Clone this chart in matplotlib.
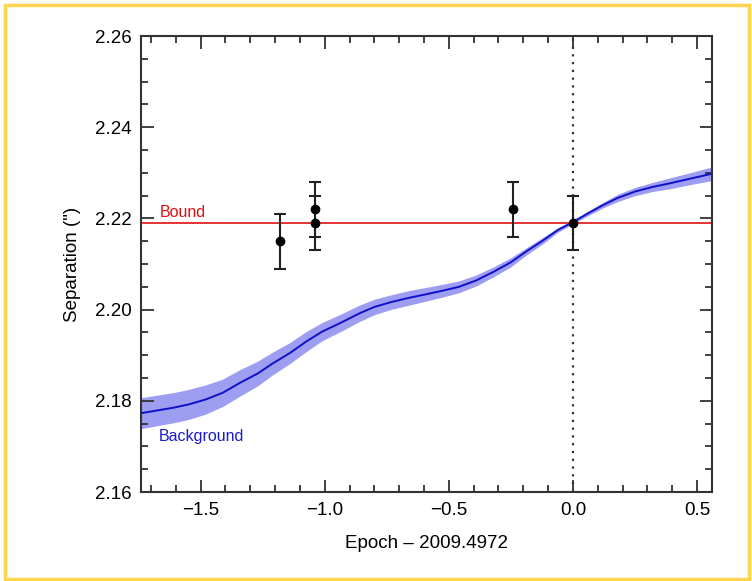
import numpy as np
import matplotlib.pyplot as plt
from matplotlib.patches import Rectangle
from matplotlib.ticker import MultipleLocator

plt.rcParams['font.family'] = ['Liberation Sans', 'DejaVu Sans']

# Datos
ep = [-1.18, -1.04, -1.04, -0.24, 0.0]
sep = [2.215, 2.222, 2.219, 2.222, 2.219]
err = [0.006, 0.006, 0.006, 0.006, 0.006]

bound = 2.219

# Curva de fondo
bx = [-1.74, -1.61, -1.55, -1.48, -1.41, -1.34, -1.27, -1.21, -1.14, -1.075,
      -1.01, -0.94, -0.86, -0.80, -0.73, -0.66, -0.59, -0.53, -0.46, -0.39,
      -0.32, -0.25, -0.19, -0.12, -0.06, 0.0, 0.06, 0.12, 0.18, 0.25, 0.32,
      0.39, 0.47, 0.56]
by = [2.1773, 2.1785, 2.1792, 2.1803, 2.1818, 2.1840, 2.1860, 2.1882, 2.1905,
      2.1930, 2.1952, 2.1970, 2.1992, 2.2006, 2.2017, 2.2026, 2.2034, 2.2041,
      2.2050, 2.2064, 2.2083, 2.2104, 2.2127, 2.2152, 2.2175, 2.2192, 2.2211,
      2.2229, 2.2245, 2.2259, 2.2269, 2.2277, 2.2287, 2.2298]
bw = [0.0034, 0.0033, 0.0033, 0.0032, 0.0030, 0.0029, 0.0027, 0.0025, 0.0023,
      0.0022, 0.0020, 0.0019, 0.0018, 0.0017, 0.0016, 0.0016, 0.0015, 0.0014,
      0.0013, 0.0012, 0.0011, 0.0010, 0.0008, 0.0007, 0.0005, 0.0004, 0.0005,
      0.0006, 0.0008, 0.0009, 0.0010, 0.0012, 0.0013, 0.0015]

bx = np.array(bx)
by = np.array(by)
bw = np.array(bw)

fig = plt.figure(figsize=(7.52, 5.81), dpi=100)
ax = fig.add_axes([0.1875, 0.153, 0.7593, 0.785])

ax.fill_between(bx, by - bw, by + bw, color='#9d9df2', lw=0)
ax.plot(bx, by, color='#1010c8', lw=1.4)
ax.axhline(bound, color='#e01010', lw=1.2)
ax.axvline(0.0, color='#333333', lw=1.6, linestyle=(0, (1, 2.5)))
ax.errorbar(ep, sep, yerr=err, fmt='o', color='black', ms=6, ecolor='#222222',
            elinewidth=1.5, capsize=4, capthick=1.5)

ax.text(-1.665, 2.2214, 'Bound', color='#e01010', fontsize=11.5, va='center')
ax.text(-1.67, 2.1723, 'Background', color='#1a1ad0', fontsize=11.5, va='center')

ax.set_xlim(-1.74, 0.56)
ax.set_ylim(2.16, 2.26)
ax.xaxis.set_major_locator(MultipleLocator(0.5))
ax.xaxis.set_minor_locator(MultipleLocator(0.1))
ax.yaxis.set_major_locator(MultipleLocator(0.02))
ax.yaxis.set_minor_locator(MultipleLocator(0.005))
ax.tick_params(which='both', direction='in', top=True, right=True, width=1.3,
               color='#333333', labelsize=13.5, pad=7)
ax.tick_params(which='major', length=9)
ax.tick_params(which='minor', length=5)
for s in ax.spines.values():
    s.set_linewidth(1.5)
    s.set_color('#333333')

ax.xaxis.set_major_formatter(plt.FuncFormatter(lambda v, p: f'{v:.1f}'.replace('-', '\u2212')))
ax.yaxis.set_major_formatter(plt.FuncFormatter(lambda v, p: f'{v:.2f}'))

ax.set_xlabel('Epoch \u2013 2009.4972', fontsize=13.5, labelpad=12)
ax.set_ylabel('Separation (")', fontsize=13.5, labelpad=10)

# Marco amarillo
fig.patches.append(Rectangle((0.006, 0.004), 0.99, 0.988, transform=fig.transFigure,
                             fill=False, edgecolor='#ffd450', lw=2.5))

fig.savefig('out.png', dpi=100)
